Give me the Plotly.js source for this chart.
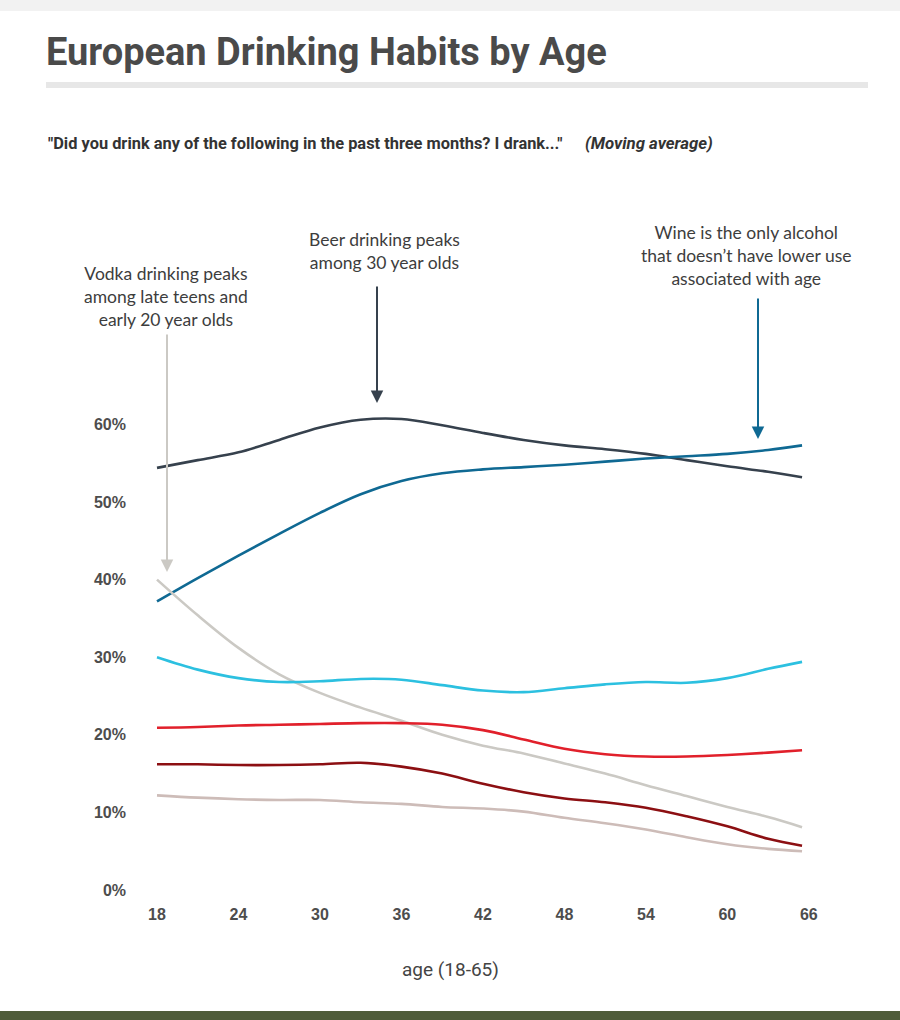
<!DOCTYPE html>
<html>
<head>
<meta charset="utf-8">
<script src="https://cdn.plot.ly/plotly-3.0.1.min.js"></script>
<style>
  html, body { margin: 0; padding: 0; background: #ffffff; }
  #chart { width: 900px; height: 1020px; }
</style>
</head>
<body>
<div id="chart"></div>
<script>
// ---- Data ----
const ages = [18, 21, 24, 27, 30, 33, 36, 39, 42, 45, 48, 51, 54, 57, 60, 63, 65.5];

const beer    = [54.4, 55.4, 56.4, 58.0, 59.6, 60.6, 60.7, 59.9, 58.9, 58.0, 57.3, 56.8, 56.2, 55.4, 54.6, 53.9, 53.2];
const wine    = [37.2, 40.2, 43.1, 45.9, 48.6, 51.0, 52.7, 53.7, 54.2, 54.5, 54.8, 55.2, 55.6, 55.9, 56.2, 56.7, 57.3];
const vodka   = [40.0, 35.4, 31.2, 27.8, 25.4, 23.5, 21.8, 20.0, 18.6, 17.6, 16.3, 15.0, 13.5, 12.1, 10.7, 9.4, 8.1];
const cider   = [30.0, 28.4, 27.3, 26.8, 26.9, 27.2, 27.1, 26.4, 25.7, 25.5, 26.0, 26.5, 26.8, 26.7, 27.3, 28.5, 29.4];
const spirits = [20.9, 21.0, 21.2, 21.3, 21.4, 21.5, 21.5, 21.3, 20.6, 19.4, 18.2, 17.5, 17.2, 17.2, 17.4, 17.7, 18.0];
const whisky  = [16.2, 16.2, 16.1, 16.1, 16.2, 16.4, 15.9, 15.0, 13.7, 12.6, 11.8, 11.3, 10.6, 9.5, 8.2, 6.6, 5.7];
const other   = [12.2, 11.9, 11.7, 11.6, 11.6, 11.3, 11.1, 10.7, 10.5, 10.1, 9.3, 8.6, 7.8, 6.8, 5.9, 5.3, 5.0];

const seriesNames = ["Beer", "Wine", "Vodka", "Cider", "Spirits", "Whisky", "Other"];
const seriesValues = [beer, wine, vodka, cider, spirits, whisky, other];
const seriesColors = ["#36414d", "#0f6993", "#cbc9c4", "#2cc0e0", "#e1202b", "#8c0f12", "#cdbcb8"];

const xTickVals = [18, 24, 30, 36, 42, 48, 54, 60, 66];
const xTickText = ["18", "24", "30", "36", "42", "48", "54", "60", "66"];
const yTickVals = [0, 10, 20, 30, 40, 50, 60];
const yTickText = ["0%", "10%", "20%", "30%", "40%", "50%", "60%"];

// ---- Layout helpers (page pixels -> paper coords) ----
const W = 900, H = 1020;
const M = { l: 140, r: 60, t: 220, b: 130 };
const PW = W - M.l - M.r, PH = H - M.t - M.b;
const px = p => (p - M.l) / PW;
const py = p => (H - M.b - p) / PH;

const traces = seriesNames.map((name, i) => ({
  type: "scatter",
  mode: "lines",
  name: name,
  x: ages,
  y: seriesValues[i],
  line: { color: seriesColors[i], width: 2.6, shape: "spline", smoothing: 1 },
  hoverinfo: "x+y+name",
  showlegend: false
}));

const textFont = { family: "Lato, 'Open Sans', sans-serif", size: 17.5, color: "#3d3d3d" };

function arrow(xp, tipY, tailY, color) {
  return {
    xref: "paper", yref: "paper",
    x: px(xp), y: py(tipY),
    axref: "pixel", ayref: "pixel",
    ax: 0, ay: tailY - tipY,
    text: "", showarrow: true,
    arrowhead: 2, arrowsize: 1.25, arrowwidth: 2, arrowcolor: color
  };
}

const annotations = [
  {
    xref: "paper", yref: "paper", x: px(46), y: py(143), xanchor: "left", yanchor: "middle",
    text: "<b>\"Did you drink any of the following in the past three months? I drank...\"</b>",
    showarrow: false, font: { family: "Roboto, sans-serif", size: 16.4, color: "#333333" }
  },
  {
    xref: "paper", yref: "paper", x: px(583), y: py(143), xanchor: "left", yanchor: "middle",
    text: "<b><i>(Moving average)</i></b>",
    showarrow: false, font: { family: "Roboto, sans-serif", size: 16.8, color: "#333333" }
  },
  {
    xref: "paper", yref: "paper", x: px(166), y: py(296), xanchor: "center", yanchor: "middle",
    text: "Vodka drinking peaks<br>among late teens and<br>early 20 year olds",
    showarrow: false, align: "center", font: textFont
  },
  {
    xref: "paper", yref: "paper", x: px(384), y: py(251), xanchor: "center", yanchor: "middle",
    text: "Beer drinking peaks<br>among 30 year olds",
    showarrow: false, align: "center", font: textFont
  },
  {
    xref: "paper", yref: "paper", x: px(746), y: py(255), xanchor: "center", yanchor: "middle",
    text: "Wine is the only alcohol<br>that doesn\u2019t have lower use<br>associated with age",
    showarrow: false, align: "center", font: textFont
  },
  arrow(167, 572, 333, "#cbc9c4"),
  arrow(377, 403, 285, "#36414d"),
  arrow(758, 439, 297, "#0f6993"),
  {
    xref: "paper", yref: "paper", x: px(450), y: py(970), xanchor: "center", yanchor: "middle",
    text: "age (18-65)", showarrow: false,
    font: { family: "Roboto, sans-serif", size: 19, color: "#444444" }
  }
];

const shapes = [
  { type: "rect", xref: "paper", yref: "paper", x0: px(0), x1: px(900), y0: py(0), y1: py(11),
    fillcolor: "#f2f2f2", line: { width: 0 }, layer: "below" },
  { type: "rect", xref: "paper", yref: "paper", x0: px(46), x1: px(868), y0: py(82), y1: py(88),
    fillcolor: "#e7e7e7", line: { width: 0 }, layer: "below" },
  { type: "rect", xref: "paper", yref: "paper", x0: px(0), x1: px(900), y0: py(1011), y1: py(1020),
    fillcolor: "#4f5c3a", line: { width: 0 }, layer: "below" }
];

const layout = {
  width: W, height: H,
  margin: M,
  paper_bgcolor: "#ffffff",
  plot_bgcolor: "#ffffff",
  title: {
    text: "<b>European Drinking Habits by Age</b>",
    xref: "container", yref: "container",
    x: 46 / W, xanchor: "left",
    y: 1 - 52 / H, yanchor: "middle",
    font: { family: "Roboto, sans-serif", size: 38, color: "#4a4a4a" }
  },
  xaxis: {
    range: [18 - (157 - M.l) / 13.58, 18 + (W - M.r - 157) / 13.58],
    tickmode: "array", tickvals: xTickVals, ticktext: xTickText,
    showgrid: false, zeroline: false, showline: false, ticks: "",
    ticklabelstandoff: 13,
    tickfont: { family: "'Liberation Sans', Arial, sans-serif", size: 16, color: "#4d4d4d", weight: "bold" },
    fixedrange: true
  },
  yaxis: {
    range: [0, PH / 7.76],
    tickmode: "array", tickvals: yTickVals, ticktext: yTickText,
    showgrid: false, zeroline: false, showline: false, ticks: "",
    ticklabelstandoff: 13,
    tickfont: { family: "'Liberation Sans', Arial, sans-serif", size: 16, color: "#4d4d4d", weight: "bold" },
    fixedrange: true
  },
  annotations: annotations,
  shapes: shapes,
  showlegend: false
};

Plotly.newPlot("chart", traces, layout, { displayModeBar: false, staticPlot: true });
</script>
</body>
</html>
